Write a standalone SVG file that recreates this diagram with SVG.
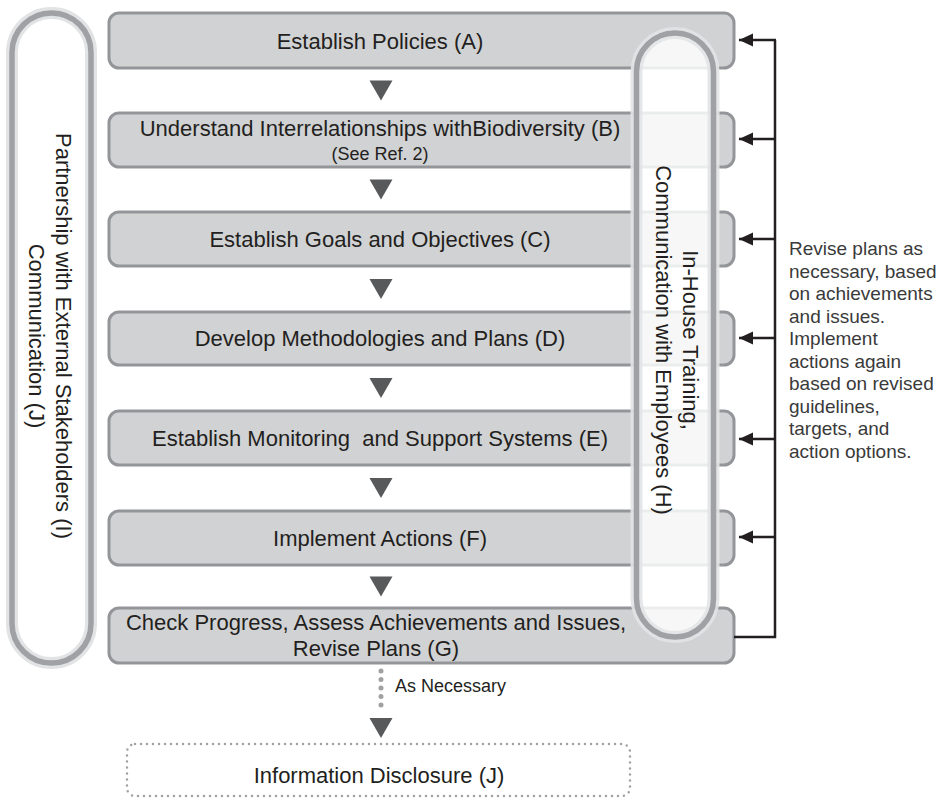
<svg xmlns="http://www.w3.org/2000/svg" xmlns:xlink="http://www.w3.org/1999/xlink" width="945" height="798" viewBox="0 0 945 798">
<style>
  .box { fill: #d1d2d4; stroke: #939598; stroke-width: 3; }
  .t { font-family: "Liberation Sans", Arial, Helvetica, sans-serif; font-size: 22px; fill: #231f20; text-anchor: middle; }
  .ts { font-family: "Liberation Sans", Arial, Helvetica, sans-serif; font-size: 18px; fill: #231f20; text-anchor: middle; }
  .side { font-family: "Liberation Sans", Arial, Helvetica, sans-serif; font-size: 19px; fill: #3a3a3a; }
  .halo { fill: none; stroke: #e2e3e5; stroke-width: 12; }
  .ring { fill: none; stroke: #9fa1a4; stroke-width: 5.5; }
  .fb { fill: none; stroke: #231f20; stroke-width: 2.5; }
</style>
<defs>
  <path id="tri" d="M-11.5,-10 L11.5,-10 L0,10 Z" fill="#58595b"/>
  <marker id="ah" markerUnits="userSpaceOnUse" markerWidth="15" markerHeight="14" refX="14" refY="7" orient="auto">
    <path d="M0,0.5 L14,7 L0,13.5 Z" fill="#231f20"/>
  </marker>
</defs>

<g id="nodeI">
  <rect x="12" y="13" width="79" height="650" rx="39.5" fill="#fcfcfc" class="halo"/>
  <rect x="12" y="13" width="79" height="650" rx="39.5" class="ring"/>
  <g transform="translate(56,336) rotate(90)">
    <text class="t" x="0" y="0">Partnership with External Stakeholders (I)</text>
    <text class="t" x="0" y="27">Communication (J)</text>
  </g>
</g>

<g id="nodeA">
  <rect class="box" x="109" y="13" width="625" height="55" rx="10"/>
  <text class="t" x="380" y="49">Establish Policies (A)</text>
</g>
<g id="nodeB">
  <rect class="box" x="109" y="113" width="625" height="54" rx="10"/>
  <text class="t" x="380" y="136">Understand Interrelationships withBiodiversity (B)</text>
  <text class="ts" x="380" y="160">(See Ref. 2)</text>
</g>
<g id="nodeC">
  <rect class="box" x="109" y="212" width="625" height="54" rx="10"/>
  <text class="t" x="380" y="247">Establish Goals and Objectives (C)</text>
</g>
<g id="nodeD">
  <rect class="box" x="109" y="312" width="625" height="53" rx="10"/>
  <text class="t" x="380" y="346">Develop Methodologies and Plans (D)</text>
</g>
<g id="nodeE">
  <rect class="box" x="109" y="411" width="625" height="54" rx="10"/>
  <text class="t" x="380" y="446" style="white-space:pre">Establish Monitoring  and Support Systems (E)</text>
</g>
<g id="nodeF">
  <rect class="box" x="109" y="511" width="625" height="54" rx="10"/>
  <text class="t" x="380" y="546">Implement Actions (F)</text>
</g>
<g id="nodeG">
  <rect class="box" x="109" y="608" width="625" height="55" rx="10"/>
  <text class="t" x="376" y="630">Check Progress, Assess Achievements and Issues,</text>
  <text class="t" x="376" y="656">Revise Plans (G)</text>
</g>

<g id="connectors">
  <use xlink:href="#tri" x="381" y="90.5"/>
  <use xlink:href="#tri" x="381" y="189.5"/>
  <use xlink:href="#tri" x="381" y="289"/>
  <use xlink:href="#tri" x="381" y="388"/>
  <use xlink:href="#tri" x="381" y="488"/>
  <use xlink:href="#tri" x="381" y="586.5"/>
  <line x1="381" y1="671" x2="381" y2="710" stroke="#a0a1a3" stroke-width="5" stroke-linecap="round" stroke-dasharray="0 8.5"/>
  <use xlink:href="#tri" x="381" y="728"/>
  <path class="fb" d="M734,637 H775 V40"/>
  <line class="fb" x1="776" y1="40" x2="739" y2="40" marker-end="url(#ah)"/>
  <line class="fb" x1="776" y1="139" x2="739" y2="139" marker-end="url(#ah)"/>
  <line class="fb" x1="776" y1="239" x2="739" y2="239" marker-end="url(#ah)"/>
  <line class="fb" x1="776" y1="338" x2="739" y2="338" marker-end="url(#ah)"/>
  <line class="fb" x1="776" y1="439" x2="739" y2="439" marker-end="url(#ah)"/>
  <line class="fb" x1="776" y1="537" x2="739" y2="537" marker-end="url(#ah)"/>
</g>

<g id="nodeH">
  <rect x="636.5" y="33" width="77" height="604" rx="38.5" fill="#ffffff" fill-opacity="0.82" stroke="#e2e3e5" stroke-opacity="0.9" stroke-width="12"/>
  <rect x="636.5" y="33" width="77" height="604" rx="38.5" class="ring"/>
  <g transform="translate(683,340) rotate(90)">
    <text class="t" x="0" y="0">In-House Training,</text>
    <text class="t" x="0" y="27">Communication with Employees (H)</text>
  </g>
</g>

<g id="note">
  <text class="side" x="789" y="255">Revise plans as</text>
  <text class="side" x="789" y="277.5">necessary, based</text>
  <text class="side" x="789" y="300">on achievements</text>
  <text class="side" x="789" y="322.5">and issues.</text>
  <text class="side" x="789" y="345">Implement</text>
  <text class="side" x="789" y="367.5">actions again</text>
  <text class="side" x="789" y="390">based on revised</text>
  <text class="side" x="789" y="412.5">guidelines,</text>
  <text class="side" x="789" y="435">targets, and</text>
  <text class="side" x="789" y="457.5">action options.</text>
</g>

<g id="labelAsNecessary">
  <text class="side" x="395" y="692" style="font-size:18px;fill:#231f20">As Necessary</text>
</g>

<g id="nodeJ">
  <rect x="127" y="744" width="503" height="52" rx="8" fill="none" stroke="#a0a1a3" stroke-width="2.5" stroke-linecap="round" stroke-dasharray="0 6"/>
  <text class="t" x="379" y="783">Information Disclosure (J)</text>
</g>
</svg>
